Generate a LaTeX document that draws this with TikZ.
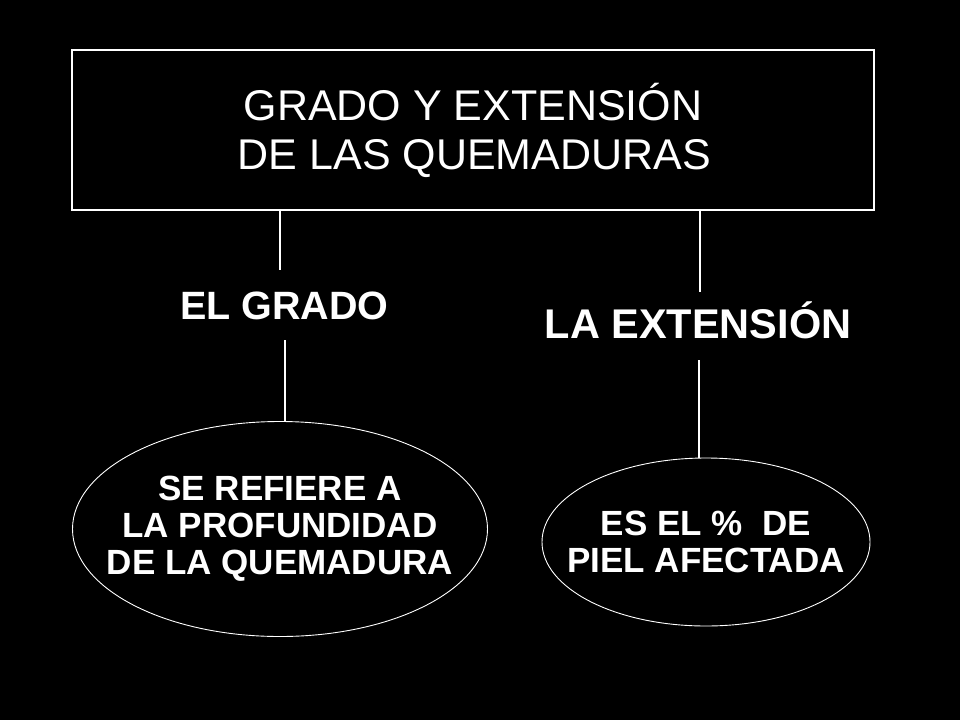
\documentclass[tikz,border=0pt]{standalone}
\usepackage{fontspec}
\setmainfont{Liberation Sans}
\usetikzlibrary{shapes.geometric}
\begin{document}
\begin{tikzpicture}[x=1pt,y=-1pt,
  titlebox/.style={draw=white, line width=1.2pt, minimum width=802pt, minimum height=160pt, inner sep=0pt},
  titletxt/.style={text=white, font=\fontsize{43}{50}\selectfont, anchor=base, inner sep=0pt},
  labeltxt/.style={text=white, font=\bfseries\fontsize{39.5}{44}\selectfont, anchor=base, inner sep=0pt},
  oval/.style={draw=white, ellipse, line width=0.9pt, inner sep=0pt},
  ovaltxt/.style={text=white, align=center, font=\bfseries\fontsize{35}{37}\selectfont, inner sep=0pt},
  thick conn/.style={draw=white, line width=2.2pt},
  thin conn/.style={draw=white, line width=1.1pt}]
\fill[black] (0,0) rectangle (960,720);
\useasboundingbox (0,0) rectangle (960,720);
% title box
\node[titlebox] (title) at (473,130) {};
\node[titletxt] (t1) at (473,120) {GRADO Y EXTENSIÓN};
\node[titletxt] (t2) at (474.5,169) {DE LAS QUEMADURAS};
% labels
\node[labeltxt] (grado) at (284.5,319) {EL GRADO};
\node[labeltxt, font=\bfseries\fontsize{41.5}{46}\selectfont] (ext) at (698,338) {LA EXTENSIÓN};
% ovals
\node[oval, minimum width=415pt, minimum height=215pt] (e1) at (280,529) {};
\node[ovaltxt] (e1t) at (e1.center) {SE REFIERE A\\LA PROFUNDIDAD\\DE LA QUEMADURA};
\node[oval, minimum width=328pt, minimum height=168pt] (e2) at (706,542) {};
\node[ovaltxt] (e2t) at (e2.center) {ES EL \%\ \ DE\\PIEL AFECTADA};
% connector end points
\coordinate (c1) at (280,270);
\coordinate (c2) at (700,292);
\coordinate (c3) at (285,340);
\coordinate (c4) at (699,360);
\draw[thick conn] (c1 |- title.south) -- (c1);
\draw[thick conn] (c2 |- title.south) -- (c2);
\draw[thin conn] (c3) -- (c3 |- e1.north);
\draw[thick conn] (c4) -- (c4 |- e2.north);
\end{tikzpicture}
\end{document}
